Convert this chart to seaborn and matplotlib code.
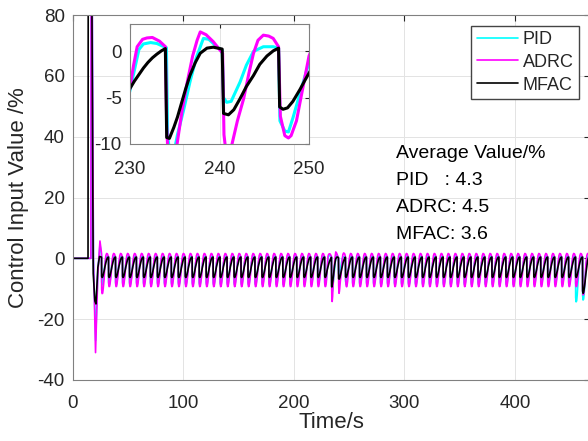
import numpy as np
import pandas as pd
import matplotlib
matplotlib.use('Agg')
import matplotlib.pyplot as plt
import seaborn as sns

# ---- data ----
series_names = ['PID', 'ADRC', 'MFAC']
series_colors = ['#00FFFF', '#FF00FF', '#000000']

# start-up transient (0 .. first regular drop)
pid_start_t = [0, 16.3, 16.5, 17.2, 18.5, 20.5, 22.5, 24.4, 25.7]
pid_start_v = [0, 0, 100, 100, 0, -27, -4, 4.5, 1.5]
adrc_start_t = [0, 16.2, 16.4, 17.2, 18.5, 20.4, 22.5, 24.4, 25.7]
adrc_start_v = [0, 0, 100, 100, 0, -31, -5, 5.7, 2.0]
mfac_start_t = [0, 13.6, 13.8, 16.9, 18.3, 19.8, 20.8, 22.5, 24.0, 25.7]
mfac_start_v = [0, 0, 100, 100, -5, -14, -15, -3, 0.6, 0.4]

# one regular oscillation cycle (time after the sharp drop)
period = 6.31
first_drop = 25.84
cyc_tau = [0.0, 0.1, 0.5, 1.0, 1.5, 2.3, 3.1, 3.9, 4.6, 5.4, 6.1]
pid_cyc = [0.5, -7.8, -8.7, -8.5, -7.3, -4.5, -1.6, -0.1, 0.6, 0.7, 0.5]
adrc_cyc = [0.5, -8.2, -9.3, -9.2, -8.0, -5.5, -1.5, 0.9, 1.6, 1.4, 0.6]
mfac_cyc = [0.4, -5.9, -6.3, -6.1, -5.5, -4.2, -2.7, -1.4, -0.4, 0.2, 0.4]

# cycles with deeper minimum (drop time: minimum)
pid_deep = {455.0: -14.3, 461.3: -13.7}
adrc_deep = {25.84: -11.6, 461.3: -12.0}
mfac_deep = {461.3: -11.5}

# detailed window 230..250 (inset)
pid_win_t = [230.0, 230.5, 231.0, 231.5, 232.3, 233.0, 233.8, 234.07, 234.2, 234.5, 235.0, 235.3,
             236.0, 236.7, 237.4, 237.85, 238.2, 238.8, 239.7, 240.3, 240.45, 240.8, 241.3, 242.3,
             243.0, 243.8, 244.9, 246.0, 246.6, 246.75, 247.3, 247.7, 248.2, 249.0, 250.0]
pid_win_v = [-4.2, -2.0, 0.2, 0.8, 0.95, 0.85, 0.5, 0.4, -9.0, -11.5, -10.5, -9.0,
             -6.3, -3.3, -0.7, 0.5, 1.4, 1.3, 0.5, 0.1, -5.0, -5.5, -5.4, -3.3,
             -1.5, 0.0, 0.5, 0.5, 0.35, -7.5, -8.6, -8.7, -7.2, -4.5, -1.2]
adrc_win_t = [230.0, 230.4, 230.8, 231.4, 231.9, 232.5, 233.3, 233.96, 234.1, 234.35, 234.6, 235.0,
              235.26, 235.8, 236.4, 237.0, 237.5, 237.85, 238.5, 239.3, 240.0, 240.35, 240.5, 240.8,
              241.1, 241.4, 242.0, 242.7, 243.3, 243.8, 244.3, 244.9, 245.5, 246.0, 246.6, 246.8,
              247.3, 247.7, 248.0, 248.6, 249.3, 250.0]
adrc_win_v = [-3.9, -1.5, 0.5, 1.3, 1.45, 1.5, 1.1, 0.5, -8.0, -13.5, -14.2, -12.5,
              -10.0, -6.5, -3.3, -0.5, 1.2, 2.1, 1.8, 1.05, 0.2, -0.2, -9.0, -11.5,
              -11.0, -10.0, -7.5, -5.1, -2.3, -0.2, 1.2, 1.75, 1.65, 1.4, 0.5, -7.0,
              -9.1, -9.35, -9.1, -7.5, -4.0, -0.5]
mfac_win_t = [230.0, 230.5, 231.0, 231.5, 232.0, 232.5, 233.0, 233.5, 233.95, 234.1, 234.4, 234.9,
              235.3, 235.6, 236.2, 236.7, 237.3, 237.85, 238.6, 239.3, 240.07, 240.3, 240.45, 241.0,
              241.6, 242.3, 243.0, 243.8, 244.5, 245.3, 246.0, 246.6, 246.72, 247.1, 247.6, 248.2,
              249.0, 249.5, 250.0]
mfac_win_v = [-4.0, -3.2, -2.5, -1.8, -1.2, -0.7, -0.3, 0.05, 0.3, -9.3, -9.4, -8.2,
              -7.1, -6.1, -4.1, -2.6, -1.2, -0.2, 0.35, 0.45, 0.3, 0.25, -6.7, -6.85,
              -6.3, -5.1, -3.8, -2.6, -1.4, -0.5, 0.05, 0.35, -6.0, -6.25, -6.1, -5.4,
              -4.1, -3.2, -2.35]

x_max = 468


def build(start_t, start_v, cyc, deep, win_t, win_v):
    ts, vs = list(start_t), list(start_v)
    cyc = np.array(cyc, dtype=float)
    d = first_drop
    while d < x_max + 1:
        c = cyc.copy()
        for key, low in deep.items():
            if abs(key - d) < 0.6:
                c = np.where(c < 0, c * low / cyc.min(), c)
        for tau, v in zip(cyc_tau, c):
            t = d + tau
            if t > start_t[-1] and not (win_t[0] <= t <= win_t[-1]):
                ts.append(t)
                vs.append(v)
        d += period
    ts += win_t
    vs += win_v
    order = np.argsort(ts, kind='stable')
    return np.array(ts)[order], np.array(vs)[order]


frames = []
for name, st, sv, cy, dp, wt, wv in [
        ('PID', pid_start_t, pid_start_v, pid_cyc, pid_deep, pid_win_t, pid_win_v),
        ('ADRC', adrc_start_t, adrc_start_v, adrc_cyc, adrc_deep, adrc_win_t, adrc_win_v),
        ('MFAC', mfac_start_t, mfac_start_v, mfac_cyc, mfac_deep, mfac_win_t, mfac_win_v)]:
    t, v = build(st, sv, cy, dp, wt, wv)
    frames.append(pd.DataFrame({'Time': t, 'Value': v, 'Method': name}))
df = pd.concat(frames, ignore_index=True)

# ---- style ----
sns.set_style('white')
plt.rcParams['font.family'] = ['Liberation Sans', 'DejaVu Sans']
plt.rcParams['axes.unicode_minus'] = False
axis_col = '#262626'

fig = plt.figure(figsize=(5.88, 4.41), dpi=100)
ax = fig.add_axes([73 / 588, 1 - 380 / 441, 517 / 588, 365 / 441])

palette = dict(zip(series_names, series_colors))
sns.lineplot(data=df, x='Time', y='Value', hue='Method', hue_order=series_names,
             palette=palette, estimator=None, sort=False, linewidth=1.2, ax=ax)

ax.set_xlim(0, x_max)
ax.set_ylim(-40, 80)
ax.set_xticks([0, 100, 200, 300, 400])
ax.set_yticks([-40, -20, 0, 20, 40, 60, 80])
ax.grid(True, color='#e3e3e3', linewidth=0.7)
ax.tick_params(direction='in', top=True, right=True, length=4, labelsize=13.5,
               colors=axis_col, labelcolor=axis_col, pad=6)
ax.tick_params(axis='x', pad=11)
for s in ax.spines.values():
    s.set_color('#808080')
    s.set_linewidth(0.8)
ax.set_xlabel('Time/s', fontsize=16, color=axis_col)
ax.set_ylabel('Control Input Value /%', fontsize=16, color=axis_col)
ax.xaxis.set_label_coords(0.5, -32 / 365)
ax.yaxis.set_label_coords(-44 / 517, 0.5)

leg = ax.legend(loc='upper right', bbox_to_anchor=(506 / 517, 0.971), borderaxespad=0,
                fontsize=13, frameon=True, fancybox=False, framealpha=1,
                edgecolor='#444444', handlelength=2.3, handletextpad=0.25,
                labelspacing=0.32, borderpad=0.3)
for line in leg.get_lines():
    line.set_linewidth(1.2)

ax.text(292, 34.4, 'Average Value/%', fontsize=14, va='center', color='black')
ax.text(292, 25.5, 'PID   : 4.3', fontsize=14, va='center', color='black')
ax.text(292, 16.6, 'ADRC: 4.5', fontsize=14, va='center', color='black')
ax.text(292, 8.0, 'MFAC: 3.6', fontsize=14, va='center', color='black')

# ---- inset ----
ins = fig.add_axes([130 / 588, 1 - 144 / 441, 179 / 588, 119.5 / 441])
sns.lineplot(data=df, x='Time', y='Value', hue='Method', hue_order=series_names,
             palette=palette, estimator=None, sort=False, linewidth=2.2, ax=ins, legend=False)
ins.set_xlim(230, 250)
ins.set_ylim(-10, 2.9)
ins.set_xticks([230, 240, 250])
ins.set_yticks([-10, -5, 0])
ins.set_xlabel('')
ins.set_ylabel('')
ins.grid(True, color='#e3e3e3', linewidth=0.7)
ins.tick_params(direction='in', top=True, right=True, length=3, labelsize=13.5,
                colors=axis_col, labelcolor=axis_col, pad=6)
ins.tick_params(axis='x', pad=12)
for s in ins.spines.values():
    s.set_color('#808080')
    s.set_linewidth(0.8)

fig.savefig('out.png', dpi=100)
